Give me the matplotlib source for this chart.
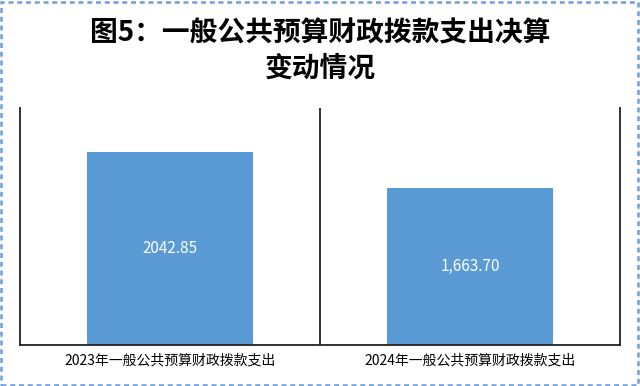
import matplotlib.pyplot as plt
from matplotlib.patches import Rectangle

plt.rcParams['font.family'] = ['Noto Sans CJK SC', 'DejaVu Sans']

categories = ['2023年一般公共预算财政拨款支出', '2024年一般公共预算财政拨款支出']
values = [2042.85, 1663.70]
labels = ['2042.85', '1,663.70']
title = '图5：一般公共预算财政拨款支出决算\n变动情况'

fig = plt.figure(figsize=(6.4, 3.86), dpi=100)
# plot area in pixels: x 20..620, y 108..345 (from top)
ax = fig.add_axes([20/640, 1 - 345/386, 600/640, 237/386])

x = range(len(categories))
bars = ax.bar(x, values, width=0.555, color='#5b9bd5')
ax.set_xlim(-0.5, 1.5)
ax.set_ylim(0, 2510)

for b, lab in zip(bars, labels):
    ax.text(b.get_x() + b.get_width() / 2, b.get_height() / 2, lab,
            ha='center', va='center', color='white', fontsize=11)

ax.axvline(0.5, color='#222222', lw=1.3)
for s in ['left', 'right', 'bottom']:
    ax.spines[s].set_color('#222222')
    ax.spines[s].set_linewidth(1.3)
ax.spines['top'].set_visible(False)
ax.set_yticks([])
ax.set_xticks(list(x))
ax.set_xticklabels(categories, fontsize=10)
ax.tick_params(axis='x', length=0, pad=6)

fig.text(0.5, 1 - 51/386, title, ha='center', va='center', fontsize=20,
         fontweight='bold', linespacing=1.35)

# dashed border around the chart
fig.patches.append(Rectangle((0.002, 0.003), 0.995, 0.993, transform=fig.transFigure,
                             fill=False, edgecolor='#6f9fd8', lw=1.8,
                             linestyle=(0, (2, 1.5))))

fig.savefig('out.png', dpi=100)
